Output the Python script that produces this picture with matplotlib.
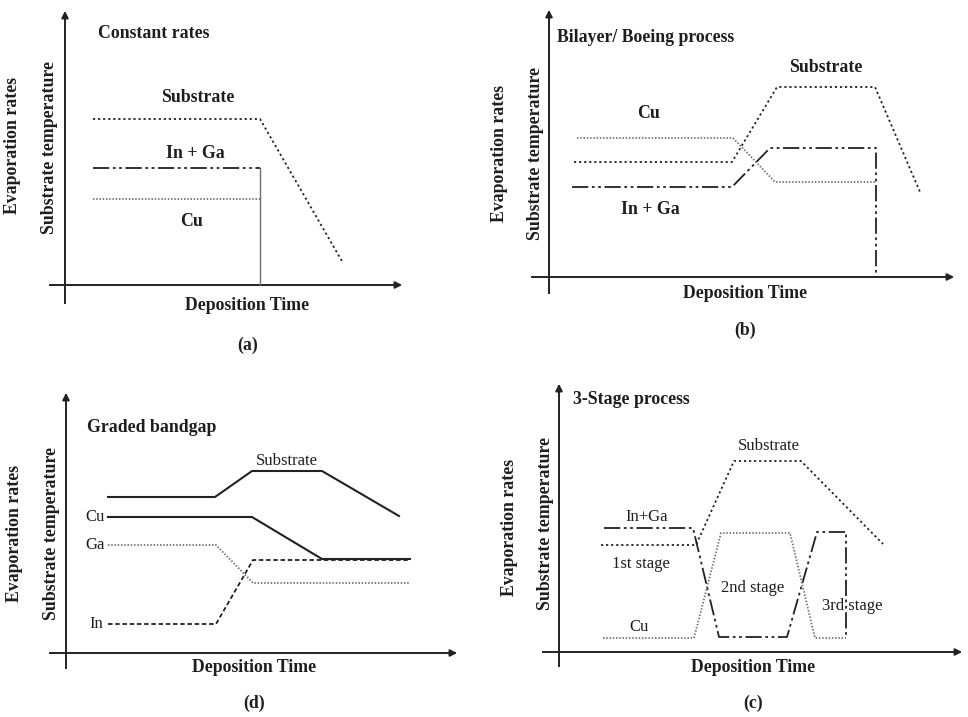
import matplotlib.pyplot as plt

plt.rcParams['font.family'] = ['Liberation Serif', 'DejaVu Serif']

# all coordinates below (pixels, y down)

# ---------------- panel (a) Constant rates ----------------
A_SUB_X = [93, 260, 343]
A_SUB_Y = [119, 119, 263]
A_INGA_X = [93, 260]
A_INGA_Y = [168, 168]
A_STOP_X = [260, 260]
A_STOP_Y = [168, 285]
A_CU_X = [93, 260]
A_CU_Y = [199, 199]

# ---------------- panel (b) Bilayer / Boeing ----------------
B_SUB_X = [574, 732, 777, 875, 920]
B_SUB_Y = [162, 162, 87, 87, 192]
B_CU_X = [577, 733, 775, 875]
B_CU_Y = [138, 138, 182, 182]
B_INGA_X = [572, 732, 770, 876, 876]
B_INGA_Y = [187, 187, 148, 148, 277]

# ---------------- panel (d) Graded bandgap ----------------
D_SUB_X = [108, 215, 252, 322, 399]
D_SUB_Y = [497, 497, 471, 471, 516]
D_CU_X = [108, 252, 322, 410]
D_CU_Y = [517, 517, 559, 559]
D_GA_X = [108, 216, 253, 410]
D_GA_Y = [545, 545, 583, 583]
D_IN_X = [108, 216, 253, 410]
D_IN_Y = [624, 624, 560, 560]

# ---------------- panel (c) 3-stage ----------------
C_SUB_X = [601, 696, 734, 801, 883]
C_SUB_Y = [545, 545, 461, 461, 544]
C_INGA_X = [604, 693, 719, 787, 817, 846, 846]
C_INGA_Y = [528, 528, 637, 637, 532, 532, 637]
C_CU_X = [603, 694, 721, 790, 815, 846]
C_CU_Y = [638, 638, 533, 533, 638, 638]

# axes of each panel: (x of y-axis, y of x-axis, x start, x end, y top, y bottom)
AXES = {
    'a': (65, 285, 50, 405, 8, 303),
    'b': (549, 277, 532, 957, 7, 293),
    'd': (66, 653, 50, 460, 390, 668),
    'c': (559, 652, 543, 965, 381, 666),
}

DOT = (0, (1.2, 1.6))
FINE = (0, (0.8, 1.0))
DASHDOT = (0, (9, 2, 1.5, 2, 1.5, 2))
DASH = (0, (2.5, 1.5))

fig = plt.figure(figsize=(9.68, 7.17), dpi=100)
ax = fig.add_axes([0, 0, 1, 1])
ax.set_xlim(0, 968)
ax.set_ylim(717, 0)
ax.axis('off')

dark = '#222222'
grey = '#6e6e6e'

for key, (x0, y0, xs, xe, yt, yb) in AXES.items():
    ax.plot([x0, x0], [yb, yt + 8], color=dark, lw=1.4)
    ax.annotate('', xy=(x0, yt), xytext=(x0, yt + 10),
                arrowprops=dict(arrowstyle='-|>', color=dark, lw=1.4, mutation_scale=10))
    ax.plot([xs, xe - 8], [y0, y0], color=dark, lw=1.4)
    ax.annotate('', xy=(xe, y0), xytext=(xe - 10, y0),
                arrowprops=dict(arrowstyle='-|>', color=dark, lw=1.4, mutation_scale=10))

# panel (a)
ax.plot(A_SUB_X, A_SUB_Y, color=dark, lw=1.3, linestyle=DOT)
ax.plot(A_INGA_X, A_INGA_Y, color=dark, lw=1.3, linestyle=DASHDOT)
ax.plot(A_STOP_X, A_STOP_Y, color=grey, lw=1.0)
ax.plot(A_CU_X, A_CU_Y, color=grey, lw=1.3, linestyle=FINE)

# panel (b)
ax.plot(B_SUB_X, B_SUB_Y, color=dark, lw=1.3, linestyle=DOT)
ax.plot(B_CU_X, B_CU_Y, color=grey, lw=1.3, linestyle=FINE)
ax.plot(B_INGA_X, B_INGA_Y, color=dark, lw=1.3, linestyle=DASHDOT)

# panel (d)
ax.plot(D_SUB_X, D_SUB_Y, color=dark, lw=1.5)
ax.plot(D_CU_X, D_CU_Y, color=dark, lw=1.5)
ax.plot(D_GA_X, D_GA_Y, color=grey, lw=1.3, linestyle=FINE)
ax.plot(D_IN_X, D_IN_Y, color=dark, lw=1.3, linestyle=DASH)

# panel (c)
ax.plot(C_SUB_X, C_SUB_Y, color=dark, lw=1.3, linestyle=DOT)
ax.plot(C_INGA_X, C_INGA_Y, color=dark, lw=1.3, linestyle=DASHDOT)
ax.plot(C_CU_X, C_CU_Y, color=grey, lw=1.3, linestyle=FINE)

bold = dict(fontweight='bold', color='#1e1e1e', fontsize=12.8)
reg = dict(color='#1e1e1e', fontsize=12)

# titles
ax.text(98, 34, 'Constant rates', ha='left', va='center', **bold)
ax.text(557, 38, 'Bilayer/ Boeing process', ha='left', va='center', **bold)
ax.text(87, 427, 'Graded bandgap', ha='left', va='center', **bold)
ax.text(573, 399, '3-Stage process', ha='left', va='center', **bold)

# axis labels
for xl, yc, xs, ys, xd, yd in [(13, 146, 50, 147, 247, 305),
                               (499, 153, 535, 153, 745, 293),
                               (15, 533, 52, 533, 254, 668),
                               (509, 527, 545, 523, 753, 667)]:
    ax.text(xl, yc, 'Evaporation rates', rotation=90, ha='center', va='center', **bold)
    ax.text(xs, ys, 'Substrate temperature', rotation=90, ha='center', va='center', **bold)
    ax.text(xd, yd, 'Deposition Time', ha='center', va='center', **bold)

# panel captions
ax.text(248, 345, '(a)', ha='center', va='center', **bold)
ax.text(745, 330, '(b)', ha='center', va='center', **bold)
ax.text(254, 703, '(d)', ha='center', va='center', **bold)
ax.text(753, 703, '(c)', ha='center', va='center', **bold)

# curve labels
ax.text(198, 98, 'Substrate', ha='center', va='center', **bold)
ax.text(195, 153, 'In + Ga', ha='center', va='center', **bold)
ax.text(192, 222, 'Cu', ha='center', va='center', **bold)

ax.text(826, 68, 'Substrate', ha='center', va='center', **bold)
ax.text(649, 113, 'Cu', ha='center', va='center', **bold)
ax.text(650, 209, 'In + Ga', ha='center', va='center', **bold)

ax.text(287, 461, 'Substrate', ha='center', va='center', **reg)
ax.text(105, 517, 'Cu', ha='right', va='center', **reg)
ax.text(105, 545, 'Ga', ha='right', va='center', **reg)
ax.text(103, 624, 'In', ha='right', va='center', **reg)

ax.text(769, 446, 'Substrate', ha='center', va='center', **reg)
ax.text(647, 517, 'In+Ga', ha='center', va='center', **reg)
ax.text(641, 564, '1st stage', ha='center', va='center', **reg)
ax.text(753, 588, '2nd stage', ha='center', va='center', **reg)
ax.text(852, 606, '3rd stage', ha='center', va='center', **reg)
ax.text(639, 627, 'Cu', ha='center', va='center', **reg)

fig.savefig('out.png', dpi=100)
